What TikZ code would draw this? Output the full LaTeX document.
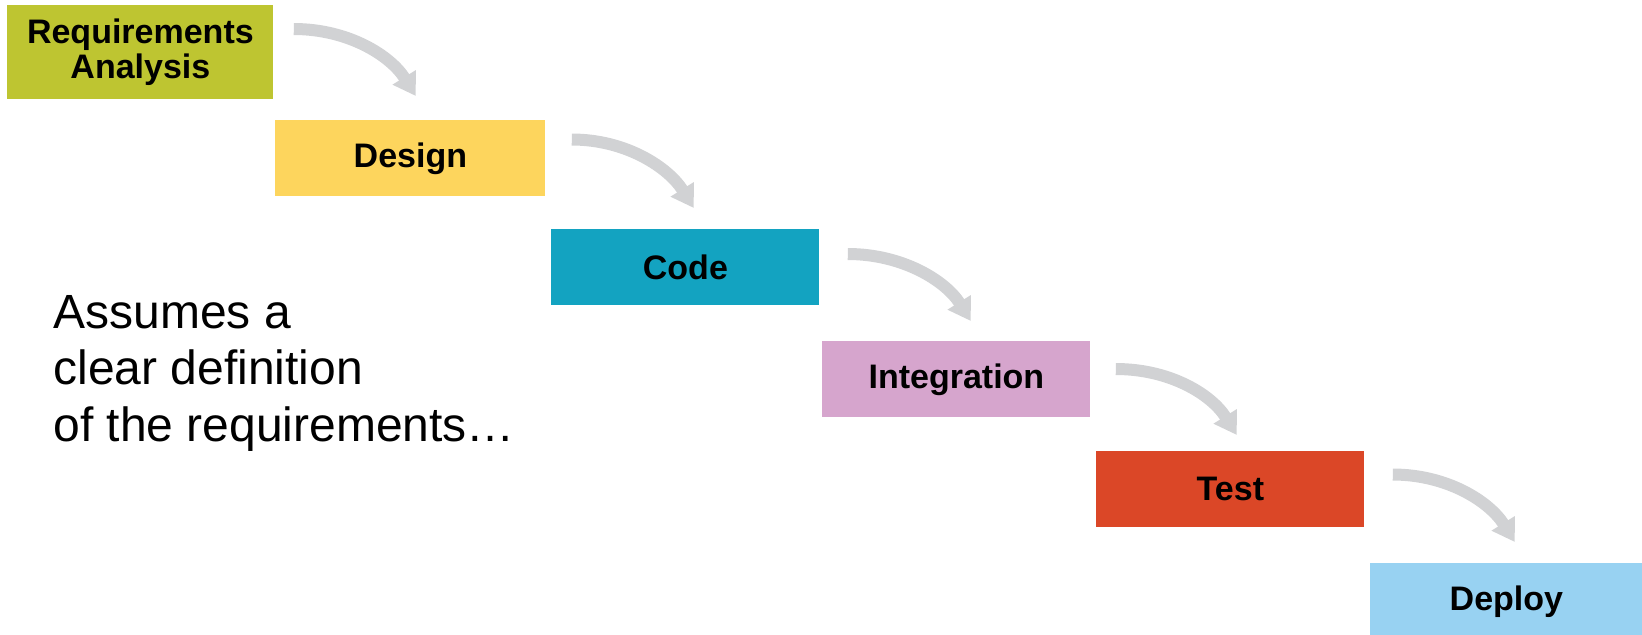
\documentclass[tikz,border=0pt]{standalone}
\usepackage{fontspec}
\setmainfont{Liberation Sans}
\usetikzlibrary{arrows.meta,calc}
\definecolor{creq}{HTML}{BEC531}
\definecolor{cdes}{HTML}{FDD55D}
\definecolor{ccode}{HTML}{13A3C1}
\definecolor{cint}{HTML}{D6A5CD}
\definecolor{ctest}{HTML}{DB4727}
\definecolor{cdep}{HTML}{98D2F2}
\definecolor{arrowgray}{HTML}{D1D2D4}
\begin{document}
\begin{tikzpicture}[x=0.5pt,y=-0.5pt,
  stage/.style={rectangle, inner sep=0pt, minimum width=134pt, minimum height=38pt,
    anchor=north west, align=center, text=black,
    font=\bfseries\fontsize{17}{17.5}\selectfont},
  flow/.style={draw=arrowgray, line width=6pt,
    -{Triangle[width=13pt,length=11pt]}},
  note/.style={anchor=base west, inner sep=0pt, font=\fontsize{24}{24}\selectfont}]
\useasboundingbox (0,0) rectangle (1642,634);
\node[stage, fill=creq, minimum width=133pt, minimum height=47pt] (b1) at (7,5) {Requirements\\Analysis};
\node[stage, fill=cdes, minimum width=135pt] (b2) at (275,120) {Design};
\node[stage, fill=ccode] (b3) at (551,229) {Code};
\node[stage, fill=cint] (b4) at (822,341) {Integration};
\node[stage, fill=ctest] (b5) at (1096,451) {Test};
\node[stage, fill=cdep, minimum width=136pt] (b6) at (1370,563) {Deploy};

\draw[flow] ($(b1.north east)+(20,24)$) .. controls +(55,0) and +(-25,-40) .. ($(b1.north east)+(142,91)$);
\draw[flow] ($(b2.north east)+(26,19.5)$) .. controls +(55,0) and +(-25,-40) .. ($(b2.north east)+(148,88)$);
\draw[flow] ($(b3.north east)+(28,25)$) .. controls +(55,0) and +(-25,-40) .. ($(b3.north east)+(151,92)$);
\draw[flow] ($(b4.north east)+(25,28)$) .. controls +(55,0) and +(-25,-40) .. ($(b4.north east)+(146,94)$);
\draw[flow] ($(b5.north east)+(28,23.5)$) .. controls +(55,0) and +(-25,-40) .. ($(b5.north east)+(150,91)$);

\node[note] (t1) at (53,328) {Assumes a};
\node[note] (t2) at (53,384) {clear definition};
\node[note] (t3) at (53,441) {of the requirements…};
\end{tikzpicture}
\end{document}
